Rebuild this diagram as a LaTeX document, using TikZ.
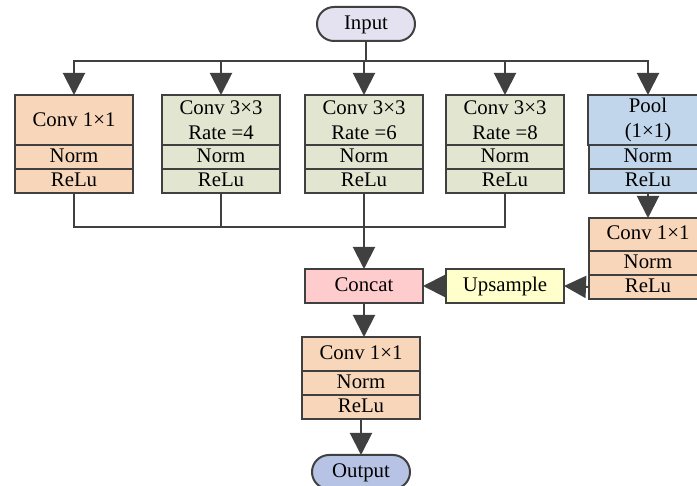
\documentclass[tikz,border=0pt]{standalone}
\usepackage{fontspec}
\setmainfont{Liberation Serif}
\usetikzlibrary{
    arrows.meta,
    positioning,
    calc
}
\definecolor{gris}{RGB}{64, 64, 64}
\definecolor{bgNaranja}{RGB}{248, 214, 186}
\definecolor{bgVerde}{RGB}{226, 230, 208}
\definecolor{bgAzul}{RGB}{193, 214, 234}
\definecolor{bgRosa}{RGB}{255, 204, 206}
\definecolor{bgAmarillo}{RGB}{255, 255, 204}
\definecolor{bgEntrada}{RGB}{228, 226, 240}
\definecolor{bgSalida}{RGB}{183, 195, 228}
\tikzset{
    capa/.style={
        rectangle, draw=gris, line width=1pt, outer sep=0pt,
        minimum width=59pt, inner sep=0pt,
        align=center, font=\fontsize{10.4}{12.5}\selectfont
    },
    cabecera/.style={capa, minimum height=25pt},
    fila/.style={
        capa, minimum height=12pt,
        text height=7.2pt, text depth=1.8pt
    },
    bloque/.style={
        capa, minimum height=17pt,
        text height=7.2pt, text depth=1.8pt
    },
    extremo/.style={
        capa, rounded corners=8.5pt,
        minimum width=49pt, minimum height=17pt,
        text height=7.2pt, text depth=1.8pt
    },
    linea/.style={line width=1pt, draw=gris},
    flecha/.style={
        -{Triangle[length=11pt,width=11pt]},
        line width=1pt, draw=gris
    },
}

\begin{document}
\begin{tikzpicture}[x=0.5pt, y=-0.5pt]

    \clip (0,0) rectangle (697,486);

    % ----------------------------------------------------------
    % ENTRADA Y RAMAS PARALELAS
    % ----------------------------------------------------------
    \node[extremo, fill=bgEntrada] at (366, 24) (entrada) {Input};

    \node[cabecera, fill=bgNaranja, anchor=north] at ( 74, 95) (rama1) {Conv 1×1};
    \node[cabecera, fill=bgVerde,   anchor=north] at (221, 95) (rama2) {Conv 3×3\\Rate =4};
    \node[cabecera, fill=bgVerde,   anchor=north] at (364, 95) (rama3) {Conv 3×3\\Rate =6};
    \node[cabecera, fill=bgVerde,   anchor=north] at (505, 95) (rama4) {Conv 3×3\\Rate =8};
    \node[cabecera, fill=bgAzul,    anchor=north, minimum width=60pt]
        at (648, 95) (pool) {Pool\\(1×1)};

    % Norm + ReLu debajo de cada rama
    \foreach \r/\c in {rama1/bgNaranja, rama2/bgVerde, rama3/bgVerde,
                       rama4/bgVerde, pool/bgAzul}{
        \node[fila, fill=\c, below=0pt of \r, minimum width=59pt]
            (\r norm) {Norm};
        \node[fila, fill=\c, below=0pt of \r norm, minimum width=59pt]
            (\r relu) {ReLu};
    }

    % ----------------------------------------------------------
    % RAMA DE POOLING
    % ----------------------------------------------------------
    \node[capa, fill=bgNaranja, anchor=north, minimum height=16.5pt,
          text height=7.2pt, text depth=1.8pt]
        at (648, 218) (convPool) {Conv 1×1};
    \node[fila, fill=bgNaranja, below=0pt of convPool] (convPoolNorm) {Norm};
    \node[fila, fill=bgNaranja, below=0pt of convPoolNorm] (convPoolRelu) {ReLu};

    \node[bloque, fill=bgAmarillo] at (505, 286) (upsample) {Upsample};
    \node[bloque, fill=bgRosa]     at (364, 286) (concat)   {Concat};

    % ----------------------------------------------------------
    % SALIDA
    % ----------------------------------------------------------
    \node[capa, fill=bgNaranja, anchor=north, minimum height=17pt,
          text height=7.2pt, text depth=1.8pt]
        at (361, 337) (convFinal) {Conv 1×1};
    \node[fila, fill=bgNaranja, below=0pt of convFinal] (convFinalNorm) {Norm};
    \node[fila, fill=bgNaranja, below=0pt of convFinalNorm] (convFinalRelu) {ReLu};

    \node[extremo, fill=bgSalida, anchor=north] at (361, 455) (salida) {Output};

    % ----------------------------------------------------------
    % FLECHAS
    % ----------------------------------------------------------
    \coordinate (reparto) at (366, 61);
    \coordinate (union)   at (364, 227);

    \draw[linea] (entrada) -- (reparto);
    \foreach \r in {rama1, rama2, rama3, rama4, pool}
        \draw[flecha] (reparto) -| (\r.north);

    % ramas 1-4 se juntan antes de Concat
    \draw[linea] (rama1relu.south) |- (union);
    \draw[linea] (rama4relu.south) |- (union);
    \draw[linea] (rama2relu.south) -- (rama2relu.south |- union);
    \draw[flecha] (rama3relu.south) -- (concat.north);

    \draw[flecha] (poolrelu) -- (convPool);
    \draw[flecha] (convPoolRelu.west) -- (upsample.east);
    \draw[flecha] (upsample) -- (concat);
    \draw[flecha] (concat.south) -- (concat.south |- convFinal.north);
    \draw[flecha] (convFinalRelu) -- (salida);

\end{tikzpicture}
\end{document}
